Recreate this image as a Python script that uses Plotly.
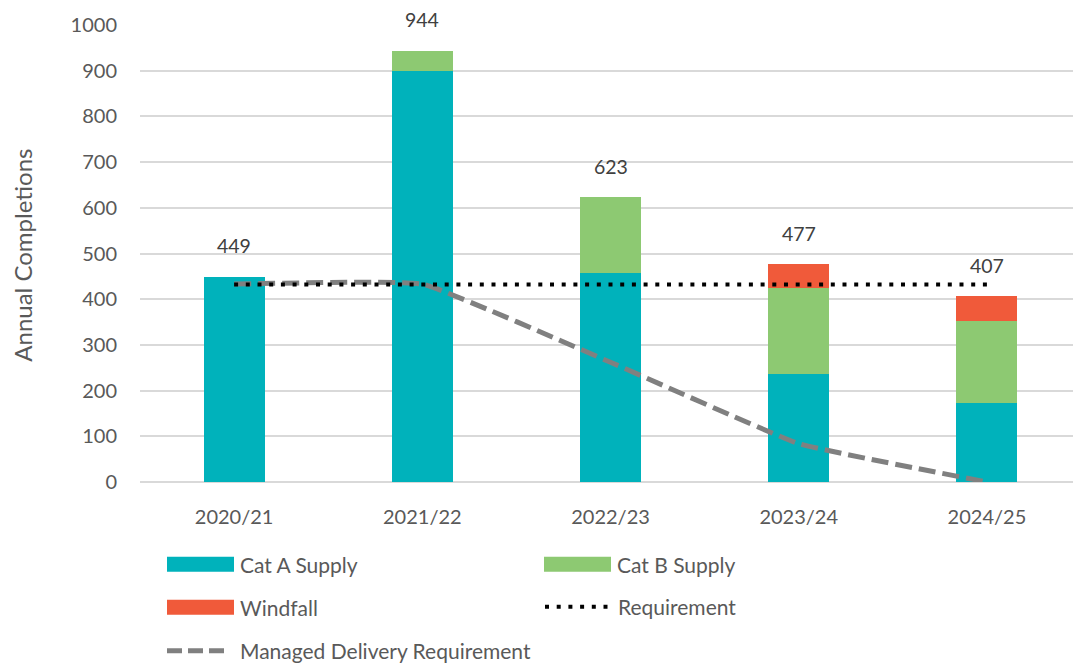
import plotly.graph_objects as go

# ---- data ----
categories = ["2020/21", "2021/22", "2022/23", "2023/24", "2024/25"]
cat_a_supply = [449, 900, 457, 236, 173]
cat_b_supply = [0, 44, 166, 188, 180]
windfall = [0, 0, 0, 53, 54]
totals = [449, 944, 623, 477, 407]
requirement = [432, 432, 432, 432, 432]
managed_delivery = [433, 433, 262, 84, 0]
y_ticks = [0, 100, 200, 300, 400, 500, 600, 700, 800, 900, 1000]

# ---- geometry helpers (reference pixels -> paper) ----
OFF = 8  # page body margin
W, H = 1081 - OFF, 664 - OFF
L = 140 - OFF
T = 25.3 - OFF
BOT = 482.3 - OFF
B = H - BOT
R = 0
PW, PH = W - L - R, BOT - T


def px(xp):
    return (xp - OFF - L) / PW


def py(yp):
    return (BOT - (yp - OFF)) / PH


FONT = "Lato, 'Open Sans', sans-serif"
TXT = "#595959"
TEAL = "#00B2BB"
GREEN = "#8DC972"
RED = "#F05A3A"
GREY = "#808080"
DOTS = "4px,7.7px"
DASHES = "17px,7px"
LEG_SIZE = 21

fig = go.Figure()
fig.add_trace(go.Bar(x=categories, y=cat_a_supply, name="Cat A Supply",
                     marker=dict(color=TEAL, line=dict(width=0))))
fig.add_trace(go.Bar(x=categories, y=cat_b_supply, name="Cat B Supply",
                     marker=dict(color=GREEN, line=dict(width=0))))
fig.add_trace(go.Bar(x=categories, y=windfall, name="Windfall",
                     marker=dict(color=RED, line=dict(width=0))))
fig.add_trace(go.Scatter(x=categories, y=managed_delivery, mode="lines",
                         name="Managed Delivery Requirement",
                         line=dict(color=GREY, width=5, dash=DASHES,
                                   shape="spline", smoothing=0.3)))
fig.add_trace(go.Scatter(x=categories, y=requirement, mode="lines",
                         name="Requirement",
                         line=dict(color="black", width=4, dash=DOTS)))

annotations = []
for c, t in zip(categories, totals):
    annotations.append(dict(x=c, y=t, xref="x", yref="y", text=str(t),
                            showarrow=False, yshift=31,
                            font=dict(family=FONT, size=19.5, color="#404040")))

# y-axis title
annotations.append(dict(x=px(23), y=py(256), xref="paper", yref="paper",
                        text="Annual Completions", textangle=-90,
                        showarrow=False, xanchor="center", yanchor="middle",
                        font=dict(family=FONT, size=24, color=TXT)))

# custom legend
shapes = []
legend_rects = [
    ("Cat A Supply", TEAL, 167, 557),
    ("Cat B Supply", GREEN, 544, 557),
    ("Windfall", RED, 167, 600),
]
for name, col, x0, y0 in legend_rects:
    shapes.append(dict(type="rect", xref="paper", yref="paper",
                       x0=px(x0), x1=px(x0 + 67), y0=py(y0), y1=py(y0 + 15),
                       fillcolor=col, line=dict(width=0)))
    annotations.append(dict(x=px(x0 + 71), y=py(y0 + 7.5), xref="paper", yref="paper",
                            text=name, showarrow=False, xanchor="left", yanchor="middle",
                            font=dict(family=FONT, size=LEG_SIZE, color=TXT)))

shapes.append(dict(type="line", xref="paper", yref="paper",
                   x0=px(545), x1=px(610), y0=py(607), y1=py(607),
                   line=dict(color="black", width=4, dash=DOTS)))
annotations.append(dict(x=px(616), y=py(607), xref="paper", yref="paper",
                        text="Requirement", showarrow=False, xanchor="left", yanchor="middle",
                        font=dict(family=FONT, size=LEG_SIZE, color=TXT)))
shapes.append(dict(type="line", xref="paper", yref="paper",
                   x0=px(167), x1=px(229), y0=py(651), y1=py(651),
                   line=dict(color=GREY, width=5, dash="15px,6px")))
annotations.append(dict(x=px(238), y=py(651), xref="paper", yref="paper",
                        text="Managed Delivery Requirement", showarrow=False,
                        xanchor="left", yanchor="middle",
                        font=dict(family=FONT, size=LEG_SIZE, color=TXT)))

fig.update_layout(
    width=W, height=H,
    margin=dict(l=L, r=R, t=T, b=B, autoexpand=False),
    barmode="stack", bargap=0.676,
    plot_bgcolor="white", paper_bgcolor="white",
    showlegend=False,
    font=dict(family=FONT, size=20, color=TXT),
    annotations=annotations, shapes=shapes,
)
fig.update_xaxes(showgrid=False, showline=False, zeroline=False, ticks="",
                 tickfont=dict(family=FONT, size=20, color=TXT),
                 ticklabelstandoff=21, automargin=False)
fig.update_yaxes(range=[0, 1000], tickvals=y_ticks, showgrid=True,
                 gridcolor="#D9D9D9", gridwidth=1.5, zeroline=True,
                 zerolinecolor="#D9D9D9", zerolinewidth=1.5, showline=False,
                 ticks="", tickfont=dict(family=FONT, size=20, color=TXT),
                 ticklabelstandoff=22, automargin=False)

fig.write_html("out.html")
